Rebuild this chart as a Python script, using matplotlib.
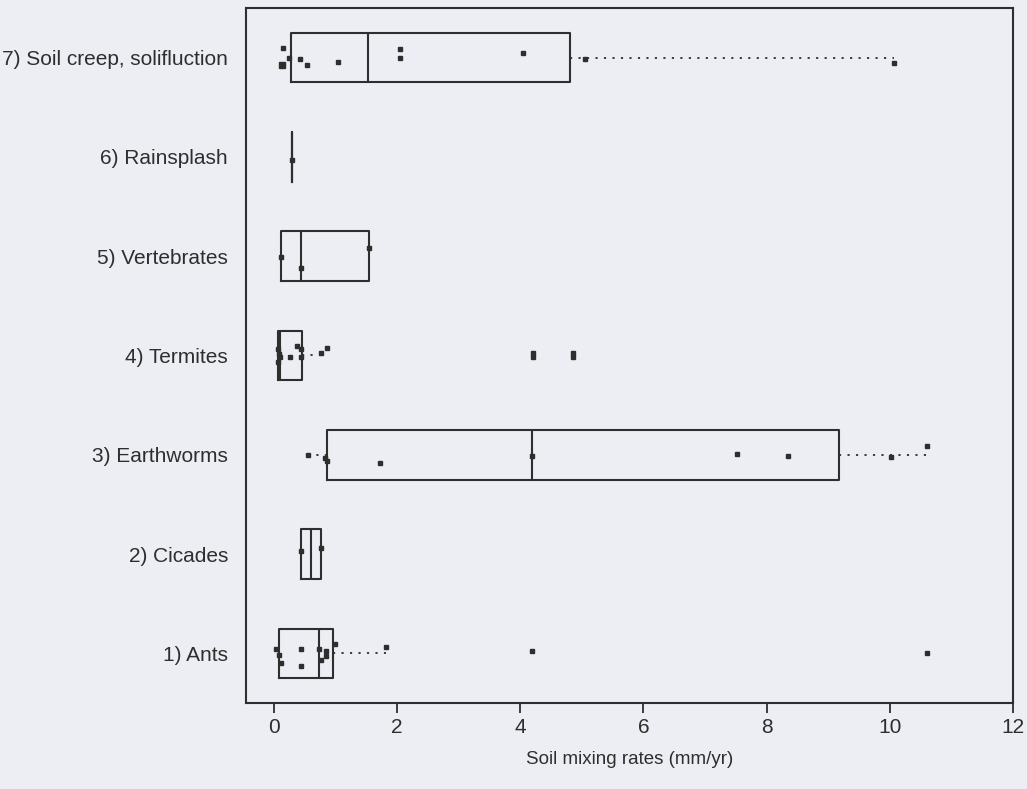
import matplotlib
matplotlib.use("Agg")
import matplotlib.pyplot as plt

plt.rcParams["font.family"] = ["Liberation Sans", "DejaVu Sans"]

# categories, bottom (1) to top (7)
labels = ["1) Ants", "2) Cicades", "3) Earthworms", "4) Termites",
          "5) Vertebrates", "6) Rainsplash", "7) Soil creep, solifluction"]

# box statistics (mm/yr)
q1 = [0.09, 0.45, 0.86, 0.07, 0.12, 0.29, 0.275]
med = [0.73, 0.60, 4.20, 0.11, 0.45, 0.29, 1.53]
q3 = [0.96, 0.76, 9.18, 0.46, 1.54, 0.29, 4.81]
whislo = [0.09, 0.45, 0.56, 0.07, 0.12, 0.29, 0.275]
whishi = [1.82, 0.76, 10.60, 0.86, 1.54, 0.29, 10.06]

# individual measurements and their vertical jitter (category units)
ants = [0.04, 0.09, 0.12, 0.45, 0.45, 0.73, 0.76, 0.85, 0.85, 0.99, 1.82, 4.20, 10.60]
ants_jit = [0.04, -0.02, -0.10, 0.04, -0.13, 0.04, -0.07, 0.02, -0.03, 0.09, 0.06, 0.02, 0.0]
cicades = [0.45, 0.76]
cicades_jit = [0.03, 0.06]
earthworms = [0.56, 0.84, 0.86, 1.73, 4.20, 7.52, 8.34, 10.02, 10.60]
earthworms_jit = [0.0, -0.03, -0.06, -0.08, -0.01, 0.01, -0.01, -0.02, 0.09]
termites = [0.07, 0.08, 0.07, 0.11, 0.27, 0.38, 0.45, 0.45, 0.77, 0.86, 4.21, 4.21, 4.85, 4.85]
termites_jit = [0.06, 0.01, -0.07, -0.02, -0.02, 0.10, 0.06, -0.02, 0.02, 0.08, -0.02, 0.02, -0.02, 0.02]
vertebrates = [0.12, 0.45, 1.54]
vertebrates_jit = [-0.01, -0.12, 0.08]
rainsplash = [0.29]
rainsplash_jit = [-0.03]
creep = [0.15, 0.25, 0.14, 0.43, 0.54, 1.05, 2.05, 2.05, 4.04, 5.06, 10.06]
creep_jit = [0.10, 0.0, -0.08, -0.01, -0.08, -0.04, 0.09, 0.0, 0.05, -0.01, -0.05]

points = [(ants, ants_jit), (cicades, cicades_jit), (earthworms, earthworms_jit),
          (termites, termites_jit), (vertebrates, vertebrates_jit),
          (rainsplash, rainsplash_jit), (creep, creep_jit)]

ink = "#2e2e2e"
paper = "#eceef3"

fig = plt.figure(figsize=(10.27, 7.89), dpi=100, facecolor=paper)
ax = fig.add_axes([0.2395, 0.109, 0.747, 0.881])
ax.set_facecolor(paper)

stats = []
for i in range(len(labels)):
    stats.append(dict(med=med[i], q1=q1[i], q3=q3[i], whislo=whislo[i],
                      whishi=whishi[i], fliers=[]))

pos = list(range(1, len(labels) + 1))
ax.bxp(stats, positions=pos, vert=False, widths=0.5, showcaps=False,
       boxprops=dict(color=ink, lw=1.5),
       medianprops=dict(color=ink, lw=1.5),
       whiskerprops=dict(color=ink, lw=1.3, linestyle=(0, (1.2, 3.5))))

for p, (vals, jit) in zip(pos, points):
    ax.plot(vals, [p + j for j in jit], ls="none", marker="s", ms=3,
            color=ink, mec=ink)
# the larger blob at the left of soil creep
ax.plot([creep[2]], [7 + creep_jit[2]], ls="none", marker="s", ms=5, color=ink)

ax.set_xlim(-0.45, 12)
ax.set_ylim(0.5, 7.5)
ax.set_xticks([0, 2, 4, 6, 8, 10, 12])
ax.set_yticks(pos)
ax.set_yticklabels(labels)
ax.tick_params(axis="y", length=0, pad=13, labelsize=15, colors=ink)
ax.tick_params(axis="x", length=7, width=1.3, pad=4, labelsize=15, colors=ink)
ax.set_xlabel("Soil mixing rates (mm/yr)", fontsize=13.5, color=ink, labelpad=10)
for s in ax.spines.values():
    s.set_color(ink)
    s.set_linewidth(1.5)

fig.savefig("out.png", dpi=100, facecolor=paper)
